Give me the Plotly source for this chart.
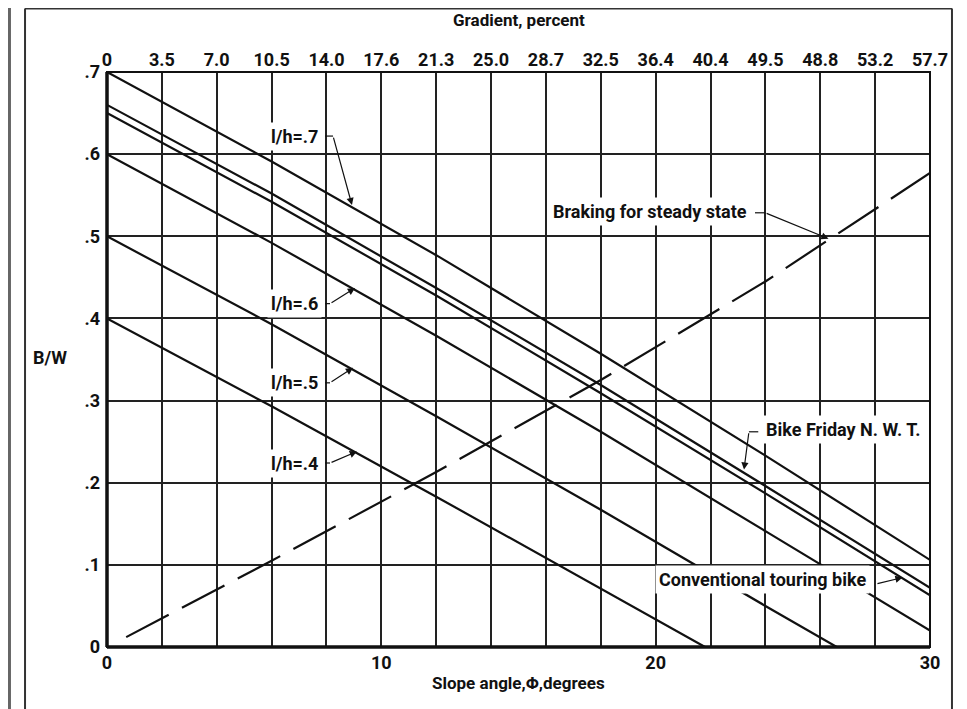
import plotly.graph_objects as go

# ---- data ----
slope_deg = [0, 6, 12, 18, 24, 30]
lh_70 = [0.700, 0.591, 0.477, 0.357, 0.233, 0.106]
bike_friday = [0.660, 0.552, 0.437, 0.319, 0.196, 0.072]
conventional = [0.650, 0.542, 0.428, 0.309, 0.187, 0.063]
lh_60 = [0.600, 0.492, 0.379, 0.262, 0.141, 0.020]
lh_50_x = [0, 6, 12, 18, 24, 26.6]
lh_50 = [0.500, 0.393, 0.281, 0.167, 0.050, 0.0]
lh_40_x = [0, 6, 12, 18, 21.8]
lh_40 = [0.400, 0.293, 0.183, 0.071, 0.0]
braking_x = [0.7, 6, 12, 18, 24, 30]
braking = [0.012, 0.105, 0.213, 0.325, 0.445, 0.577]

x_grid = list(range(0, 31, 2))
bottom_labels = ["0", "", "", "", "", "10", "", "", "", "", "20", "", "", "", "", "30"]
gradient_labels = ["0", "3.5", "7.0", "10.5", "14.0", "17.6", "21.3", "25.0", "28.7",
                   "32.5", "36.4", "40.4", "49.5", "48.8", "53.2", "57.7"]
y_vals = [0, 0.1, 0.2, 0.3, 0.4, 0.5, 0.6, 0.7]
y_labels = ["0", ".1", ".2", ".3", ".4", ".5", ".6", ".7"]

INK = "#111111"
FONT = "Roboto"
fig = go.Figure()

def add_line(x, y, dash="solid", w=2.2):
    fig.add_trace(go.Scatter(x=x, y=y, mode="lines", line=dict(color=INK, width=w, dash=dash),
                             showlegend=False, hoverinfo="skip"))

add_line(slope_deg, lh_70)
add_line(slope_deg, bike_friday)
add_line(slope_deg, conventional)
add_line(slope_deg, lh_60)
add_line(lh_50_x, lh_50)
add_line(lh_40_x, lh_40)
add_line(braking_x, braking, dash="48px,15px")

# invisible trace for the top axis
fig.add_trace(go.Scatter(x=[0, 30], y=[0, 0], xaxis="x2", mode="lines",
                         line=dict(width=0), showlegend=False, hoverinfo="skip"))

tickfont = dict(family=FONT, size=18, color=INK, weight="bold")
fig.update_layout(
    width=959, height=701,
    margin=dict(l=99, r=37, t=64, b=62),
    paper_bgcolor="white", plot_bgcolor="white",
    xaxis=dict(range=[0, 30], tickvals=x_grid, ticktext=bottom_labels, showgrid=True,
               gridcolor="#222", gridwidth=1.6, zeroline=False, showline=False,
               tickfont=tickfont, ticks="", ticklabelstandoff=3),
    xaxis2=dict(range=[0, 30], overlaying="x", side="top", tickvals=x_grid,
                ticktext=gradient_labels, showgrid=False, zeroline=False,
                tickfont=tickfont, ticks="", ticklabelstandoff=1),
    yaxis=dict(range=[0, 0.7], tickvals=y_vals, ticktext=y_labels, showgrid=True,
               gridcolor="#222", gridwidth=1.6, zeroline=False, showline=False,
               tickfont=tickfont, ticks="", ticklabelstandoff=6),
)

# plot frame
fig.add_shape(type="rect", xref="paper", yref="paper", x0=0, x1=1, y0=0, y1=1,
              line=dict(color=INK, width=2))
fig.add_shape(type="line", xref="paper", yref="paper", x0=0, x1=1, y0=0, y1=0,
              line=dict(color=INK, width=3.5))
fig.add_shape(type="line", xref="paper", yref="paper", x0=0, x1=0, y0=0, y1=1,
              line=dict(color=INK, width=3.5))
# page frame (scanned page borders)
fig.add_shape(type="line", xref="paper", yref="paper", x0=-0.0996, x1=1.0267, y0=1.1105, y1=1.1105,
              line=dict(color="#333", width=2))
fig.add_shape(type="line", xref="paper", yref="paper", x0=-0.0996, x1=-0.0996, y0=1.1105, y1=-0.12,
              line=dict(color="#333", width=2))
fig.add_shape(type="line", xref="paper", yref="paper", x0=1.0267, x1=1.0267, y0=1.1105, y1=-0.12,
              line=dict(color="#333", width=2))
fig.add_shape(type="line", xref="paper", yref="paper", x0=-0.1185, x1=-0.1185, y0=1.2, y1=-0.12,
              line=dict(color="#666", width=3))

lab = dict(family=FONT, size=18, color=INK, weight="bold")
title_font = dict(family=FONT, size=17, color=INK, weight="bold")

# axis titles
fig.add_annotation(text="Gradient, percent", xref="paper", yref="paper", x=0.5, y=1.0,
                   yshift=52, showarrow=False, font=title_font, yanchor="middle")
fig.add_annotation(text="Slope angle,Φ,degrees", xref="paper", yref="paper", x=0.5, y=0,
                   yshift=-36, showarrow=False, font=title_font, yanchor="middle")
fig.add_annotation(text="B/W", xref="paper", yref="paper", x=0, y=0.5, xshift=-57,
                   yshift=2, showarrow=False, font=lab, xanchor="center")

def label(text, x, y, anchor):
    fig.add_annotation(text=text, x=x, y=y, xref="x", yref="y", showarrow=False,
                       font=lab, xanchor=anchor, yanchor="middle", bgcolor="white", borderpad=3)

def leader(tail_x, tail_y, tip_x, tip_y, stub_x=None):
    if stub_x is not None:
        fig.add_shape(type="line", xref="x", yref="y", x0=stub_x, x1=tail_x, y0=tail_y, y1=tail_y,
                      line=dict(color=INK, width=1.2))
    fig.add_annotation(text="", x=tip_x, y=tip_y, xref="x", yref="y", ax=tail_x, ay=tail_y,
                       axref="x", ayref="y", showarrow=True, arrowhead=2, arrowsize=1.2,
                       arrowwidth=1.2, arrowcolor=INK)

label("l/h=.7", 7.84, 0.622, "right")
leader(8.24, 0.622, 8.93, 0.538, stub_x=7.95)
label("l/h=.6", 7.84, 0.418, "right")
leader(8.13, 0.418, 9.04, 0.437, stub_x=7.95)
label("l/h=.5", 7.84, 0.3216, "right")
leader(8.13, 0.3216, 8.97, 0.340, stub_x=7.95)
label("l/h=.4", 7.84, 0.224, "right")
leader(8.13, 0.224, 9.11, 0.238, stub_x=7.95)
label("Braking for steady state", 23.48, 0.5298, "right")
leader(23.99, 0.5286, 26.3, 0.497, stub_x=23.62)
label("Bike Friday N. W. T.", 23.88, 0.2643, "left")
leader(23.4, 0.262, 23.22, 0.216, stub_x=23.74)
label("Conventional touring bike", 27.82, 0.0816, "right")
leader(28.03, 0.0767, 29.0, 0.0845)

fig.write_html("out.html")
